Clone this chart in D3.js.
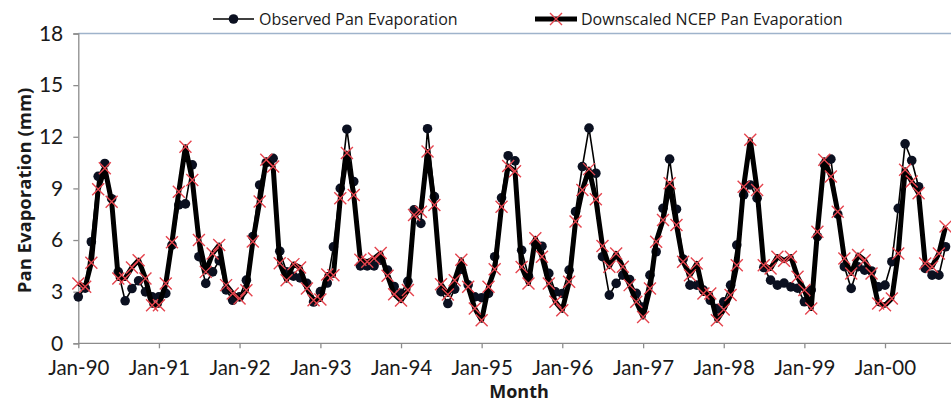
<!DOCTYPE html>
<html>
<head>
<meta charset="utf-8">
<script src="https://cdn.jsdelivr.net/npm/d3@7"></script>
<style>
  html, body { margin: 0; padding: 0; background: #fff; }
  svg { display: block; }
  text { font-family: "Open Sans", "DejaVu Sans", sans-serif; }
</style>
</head>
<body>
<svg id="chart" width="951" height="404"></svg>
<script>
// Monthly pan evaporation (mm), Jan-1990 .. Oct-2000
const startMonth = new Date(1990, 0, 1);
const endMonth = new Date(2000, 10, 1);
const months = d3.timeMonth.range(startMonth, endMonth);

const observed = [
  2.70, 3.20, 5.90, 9.70, 10.45, 8.40, 4.15, 2.47, 3.18, 3.63, 2.99, 2.70,
  2.70, 2.90, 5.70, 8.04, 8.10, 10.37, 5.03, 3.48, 4.15, 4.80, 3.10, 2.50,
  2.70, 3.67, 6.20, 9.20, 10.50, 10.75, 5.35, 4.15, 3.90, 3.80, 3.48, 2.40,
  3.00, 3.50, 5.60, 9.00, 12.44, 9.40, 4.50, 4.50, 4.50, 4.83, 4.25, 3.30,
  2.90, 3.60, 7.75, 6.97, 12.47, 8.52, 3.00, 2.31, 3.15, 4.30, 3.40, 2.70,
  2.65, 2.90, 5.03, 8.45, 10.90, 10.60, 5.41, 3.90, 5.80, 5.64, 4.06, 2.99,
  2.89, 4.25, 7.65, 10.27, 12.50, 9.88, 5.03, 2.80, 3.48, 3.96, 3.70, 2.90,
  2.11, 3.96, 5.32, 7.84, 10.70, 7.79, 4.90, 3.38, 3.38, 3.09, 2.50, 2.02,
  2.41, 3.38, 5.71, 8.62, 9.20, 8.43, 4.40, 3.67, 3.38, 3.50, 3.28, 3.20,
  2.41, 3.09, 6.20, 10.40, 10.70, 7.50, 4.45, 3.19, 4.45, 4.25, 4.20, 3.28,
  3.38, 4.74, 7.84, 11.59, 10.62, 9.10, 4.35, 3.96, 3.96, 5.61
];

const downscaled = [
  3.47, 3.28, 4.68, 8.95, 10.17, 8.23, 3.77, 3.77, 4.41, 4.83, 3.77, 2.21,
  2.21, 3.47, 5.87, 8.81, 11.42, 9.49, 6.00, 4.15, 5.22, 5.71, 3.38, 2.90,
  2.60, 3.08, 5.91, 8.24, 10.66, 10.27, 4.65, 3.67, 4.60, 4.40, 3.19, 2.50,
  2.55, 4.00, 3.95, 8.43, 11.05, 8.62, 4.85, 4.74, 4.93, 5.24, 3.93, 2.85,
  2.48, 3.09, 7.45, 7.65, 11.14, 8.04, 3.43, 2.84, 3.67, 4.85, 3.28, 2.02,
  1.34, 3.28, 4.30, 7.94, 10.30, 10.00, 4.44, 3.48, 6.10, 5.03, 3.48, 2.41,
  1.92, 3.57, 7.07, 8.91, 10.12, 8.37, 5.65, 4.45, 5.22, 4.45, 3.38, 2.41,
  1.53, 3.19, 5.90, 7.16, 9.30, 6.87, 4.74, 3.96, 4.64, 2.89, 2.89, 1.34,
  1.96, 2.80, 4.54, 9.10, 11.82, 8.91, 4.54, 4.35, 5.03, 4.80, 5.03, 3.86,
  3.09, 2.02, 6.48, 10.66, 9.69, 7.65, 4.93, 4.06, 5.13, 4.83, 4.06, 2.31,
  2.21, 2.60, 5.22, 10.08, 9.40, 8.72, 4.64, 4.45, 5.22, 6.78
];

const yTicks = [0, 3, 6, 9, 12, 15, 18];
const seriesNames = ["Observed Pan Evaporation", "Downscaled NCEP Pan Evaporation"];
const xTitle = "Month";
const yTitle = "Pan Evaporation (mm)";

const W = 951, H = 404;
const plot = { left: 78.3, top: 33.5, bottom: 343.3, right: 951 };

const svg = d3.select("#chart");

const x = d3.scaleTime()
  .domain([new Date(1990, 0, 1), new Date(2000, 0, 1)])
  .range([plot.left, 885]);
const y = d3.scaleLinear().domain([0, 18]).range([plot.bottom, plot.top]);

const axisColor = "#8c8c8c";
const textColor = "#1a1a1a";
const tickFont = "Lato, 'Open Sans', sans-serif";

// clip region for series (the plot runs off the right edge)
svg.append("defs").append("clipPath").attr("id", "plotClip")
  .append("rect")
  .attr("x", plot.left - 8).attr("y", plot.top - 10)
  .attr("width", W - plot.left + 8).attr("height", plot.bottom - plot.top + 20);

// top border of plot area
svg.append("line")
  .attr("x1", plot.left).attr("x2", W)
  .attr("y1", y(18)).attr("y2", y(18))
  .attr("stroke", "#9fb3cb").attr("stroke-width", 1.6);

// y axis
const yAxis = svg.append("g")
  .attr("transform", `translate(${plot.left},0)`)
  .call(d3.axisLeft(y).tickValues(yTicks).tickSize(5).tickPadding(10).tickFormat(d3.format("d")));
yAxis.select(".domain").attr("stroke", axisColor).attr("stroke-width", 1.3);
yAxis.selectAll(".tick line").attr("stroke", axisColor).attr("stroke-width", 1.3);
yAxis.selectAll(".tick text")
  .attr("fill", textColor).style("font-size", "21px")
  .style("font-family", tickFont);

// x axis
const xAxis = svg.append("g")
  .attr("transform", `translate(0,${plot.bottom})`)
  .call(d3.axisBottom(x)
    .ticks(d3.timeYear.every(1))
    .tickSize(5).tickPadding(12)
    .tickFormat(d3.timeFormat("%b-%y")));
xAxis.select(".domain").remove();
xAxis.append("line")
  .attr("x1", plot.left).attr("x2", W).attr("y1", 0).attr("y2", 0)
  .attr("stroke", axisColor).attr("stroke-width", 1.3);
xAxis.selectAll(".tick line").attr("stroke", axisColor).attr("stroke-width", 1.3);
xAxis.selectAll(".tick text")
  .attr("fill", textColor).style("font-size", "20.5px")
  .style("font-family", tickFont);

// axis titles
svg.append("text")
  .attr("transform", `translate(23,${(plot.top + plot.bottom) / 2 + 2}) rotate(-90)`)
  .attr("text-anchor", "middle").attr("dominant-baseline", "central")
  .style("font-size", "18.5px").style("font-weight", "bold")
  .attr("fill", textColor).text(yTitle);

svg.append("text")
  .attr("x", 519).attr("y", 391)
  .attr("text-anchor", "middle").attr("dominant-baseline", "central")
  .style("font-size", "18px").style("font-weight", "bold")
  .attr("fill", textColor).text(xTitle);

// series
const obsData = months.map((m, i) => ({ date: m, value: observed[i] }));
const dsData = months.map((m, i) => ({ date: m, value: downscaled[i] }));

const line = d3.line().x(d => x(d.date)).y(d => y(d.value));
const series = svg.append("g").attr("clip-path", "url(#plotClip)");

const dotColor = "#0b1020";
const crossColor = "#e5444e";
const crossPath = "M-6,-6L6,6M-6,6L6,-6";

series.append("path").datum(obsData)
  .attr("d", line).attr("fill", "none")
  .attr("stroke", "#000").attr("stroke-width", 1.6).attr("stroke-linejoin", "round");

series.selectAll("circle.obs").data(obsData).join("circle")
  .attr("class", "obs")
  .attr("cx", d => x(d.date)).attr("cy", d => y(d.value))
  .attr("r", 4.8).attr("fill", dotColor);

series.append("path").datum(dsData)
  .attr("d", line).attr("fill", "none")
  .attr("stroke", "#000").attr("stroke-width", 5).attr("stroke-linejoin", "round");

series.selectAll("path.ds").data(dsData).join("path")
  .attr("class", "ds")
  .attr("transform", d => `translate(${x(d.date)},${y(d.value)})`)
  .attr("d", crossPath)
  .attr("stroke", crossColor).attr("stroke-width", 1.4).attr("fill", "none");

// legend
const legY = 19;
const leg = svg.append("g");
leg.append("line").attr("x1", 213).attr("x2", 254).attr("y1", legY).attr("y2", legY)
  .attr("stroke", "#000").attr("stroke-width", 1.6);
leg.append("circle").attr("cx", 233.5).attr("cy", legY).attr("r", 4.8).attr("fill", dotColor);
leg.append("text").attr("x", 259).attr("y", legY).attr("dominant-baseline", "central")
  .style("font-size", "16px").attr("fill", textColor).text(seriesNames[0]);

leg.append("line").attr("x1", 535).attr("x2", 577).attr("y1", legY).attr("y2", legY)
  .attr("stroke", "#000").attr("stroke-width", 5);
leg.append("path").attr("transform", `translate(556,${legY})`).attr("d", crossPath)
  .attr("stroke", crossColor).attr("stroke-width", 1.4).attr("fill", "none");
leg.append("text").attr("x", 581).attr("y", legY).attr("dominant-baseline", "central")
  .style("font-size", "16px").attr("fill", textColor).text(seriesNames[1]);
</script>
</body>
</html>
